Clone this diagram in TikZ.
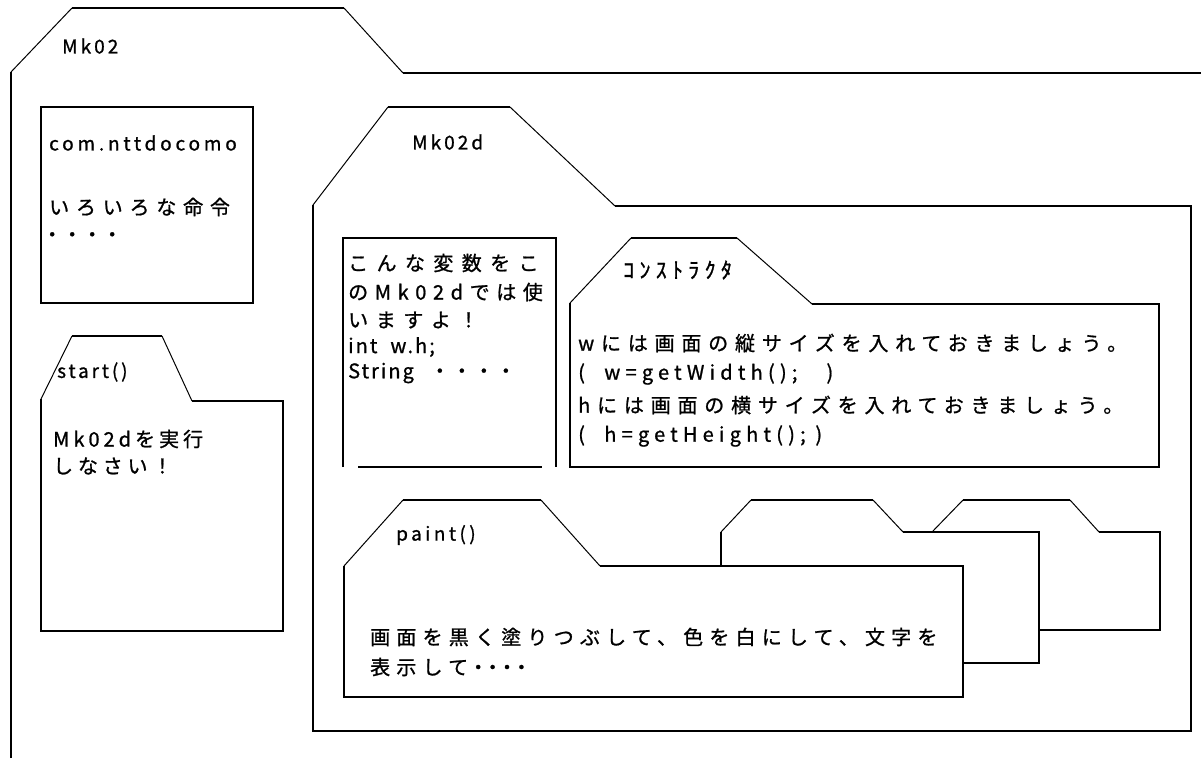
\documentclass[tikz,border=0pt]{standalone}
\usepackage{fontspec}
\setmainfont{Noto Sans CJK JP}
\newfontfamily\jp[FakeBold=1]{Noto Sans CJK JP}
\begin{document}
\begin{tikzpicture}[x=1pt,y=-1pt,
  edge/.style={line width=1.8pt, line join=miter},
  slant/.style={line width=1pt},
  t/.style={anchor=west, inner sep=0pt, font=\jp\fontsize{20}{20}\selectfont\addfontfeature{LetterSpace=#1}},
  lat/.style={anchor=west, inner sep=0pt, font=\jp\fontsize{19}{19}\selectfont\addfontfeature{LetterSpace=#1}},
  hw/.style={anchor=west, inner sep=0pt, font=\jp\fontsize{22}{22}\selectfont\addfontfeature{LetterSpace=#1}}]
\useasboundingbox (0,0) rectangle (1201,758);
% outer Mk02 frame
\draw[edge] (11,758) -- (11,72);
\draw[slant] (11,72) -- (72,8);
\draw[edge] (72,8) -- (344,8);
\draw[slant] (344,8) -- (403,73);
\draw[edge] (403,73) -- (1201,73);
\node[lat=16] (mk02) at (62,46) {Mk02};
% com.nttdocomo box
\draw[edge] (41,107) rectangle (253,303);
\node[lat=20] (com) at (49,143) {com.nttdocomo};
\node[t=34] (iro) at (49,207) {いろいろな命令};
\node[t=0] (dots1) at (42,237) {・・・・};
% start()
\draw[edge] (41,399) -- (41,631) -- (283,631) -- (283,401) -- (192,401);
\draw[slant] (41,399) -- (72,336);
\draw[edge] (72,336) -- (162,336);
\draw[slant] (162,336) -- (192,401);
\node[lat=15] (startl) at (57,372) {start()};
\node[t=20] (st1) at (53,439) {Mk02dを実行};
\node[t=24] (st2) at (53,466) {しなさい！};
% Mk02d
\draw[edge] (313,205) -- (313,731) -- (1191,731) -- (1191,206) -- (615,206);
\draw[slant] (313,205) -- (388,107);
\draw[edge] (388,107) -- (510,107);
\draw[slant] (510,107) -- (615,206);
\node[lat=16] (mk02d) at (412,142) {Mk02d};
% variables box
\draw[edge] (343,467) -- (343,238) -- (556,238) -- (556,467);
\draw[edge] (358,467) -- (542,467);
\node[t=42] (v1) at (348,263) {こんな変数をこ};
\node[t=33] (v2) at (348,292) {のMk02dでは使};
\node[t=38] (v3) at (348,320) {いますよ！};
\node[t=10] (v4) at (348,347) {int\ \ w.h;};
\node[t=10] (v5) at (348,373) {String\hspace{16pt}・・・・};
% constructor
\draw[edge] (570,303) -- (570,467) -- (1159,467) -- (1159,304) -- (812,304);
\draw[slant] (570,303) -- (631,238);
\draw[edge] (631,238) -- (737,238);
\draw[slant] (737,238) -- (812,304);
\node[hw=24] (ctor) at (623,270) {ｺﾝｽﾄﾗｸﾀ};
\node[t=34] (c1) at (578,343) {wには画面の縦サイズを入れておきましょう。};
\node[t=26] (c2) at (578,374) {(\ \ w=getWidth();\ \ \ )};
\node[t=34] (c3) at (578,405) {hには画面の横サイズを入れておきましょう。};
\node[t=26] (c4) at (578,436) {(\ \ h=getHeight();\ )};
% third folder (back)
\draw[slant] (932,532) -- (963,500);
\draw[edge] (963,500) -- (1070,500);
\draw[slant] (1070,500) -- (1099,532);
\draw[edge] (1099,532) -- (1160,532) -- (1160,630) -- (1039,630);
% second folder
\draw[edge] (721,566) -- (721,532);
\draw[slant] (721,532) -- (751,500);
\draw[edge] (751,500) -- (873,500);
\draw[slant] (873,500) -- (903,532);
\draw[edge] (903,532) -- (1039,532) -- (1039,663) -- (963,663);
% paint()
\draw[edge] (344,566) -- (344,697) -- (963,697) -- (963,566) -- (600,566);
\draw[slant] (344,566) -- (403,500);
\draw[edge] (403,500) -- (541,500);
\draw[slant] (541,500) -- (600,566);
\node[lat=18] (paintl) at (396,535) {paint()};
\node[t=31] (p1) at (370,637) {画面を黒く塗りつぶして、色を白にして、文字を};
\node[t=31] (p2) at (370,667) {表示して\addfontfeature{LetterSpace=-28}・・・・};
\end{tikzpicture}
\end{document}
